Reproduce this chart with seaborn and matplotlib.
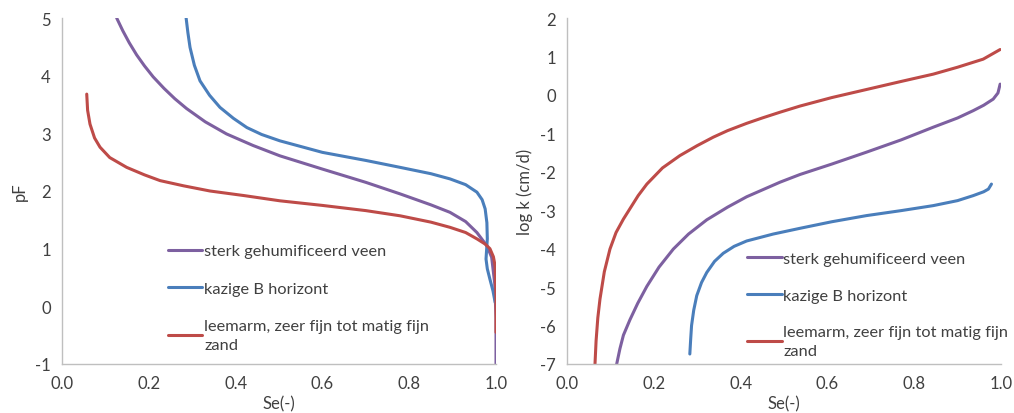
import matplotlib
matplotlib.use("Agg")
import matplotlib.pyplot as plt
import seaborn as sns

# labels
lbl_veen = "sterk gehumificeerd veen"
lbl_kazig = "kazige B horizont"
lbl_zand = "leemarm, zeer fijn tot matig fijn\nzand"

# pF curves (Se, pF)
veen_se = [0.126, 0.14, 0.155, 0.172, 0.19, 0.21, 0.235, 0.26, 0.287, 0.33, 0.379, 0.44, 0.502,
           0.6, 0.7, 0.779, 0.85, 0.894, 0.93, 0.956, 0.979, 0.99, 0.997, 1.0, 1.0]
veen_pf = [5.0, 4.78, 4.57, 4.36, 4.17, 3.98, 3.78, 3.6, 3.43, 3.2, 2.99, 2.79, 2.61,
           2.38, 2.15, 1.95, 1.76, 1.63, 1.47, 1.28, 1.05, 0.85, 0.4, -0.2, -1.0]

kazig_se = [0.286, 0.29, 0.295, 0.305, 0.318, 0.34, 0.364, 0.395, 0.426, 0.46, 0.502, 0.6, 0.7,
            0.779, 0.85, 0.894, 0.93, 0.956, 0.968, 0.975, 0.979, 0.98, 0.977, 0.98, 0.986,
            0.993, 0.998]
kazig_pf = [5.0, 4.75, 4.49, 4.18, 3.91, 3.66, 3.45, 3.26, 3.10, 2.98, 2.87, 2.67, 2.53,
            2.41, 2.3, 2.21, 2.11, 1.98, 1.85, 1.69, 1.45, 1.17, 0.82, 0.65, 0.47,
            0.27, 0.07]

zand_se = [0.057, 0.059, 0.0645, 0.075, 0.0876, 0.11, 0.149, 0.19, 0.226, 0.28, 0.341, 0.42,
           0.502, 0.6, 0.7, 0.779, 0.85, 0.894, 0.93, 0.956, 0.975, 0.986, 0.994, 0.998, 1.0, 1.0]
zand_pf = [3.68, 3.4, 3.16, 2.92, 2.76, 2.58, 2.41, 2.28, 2.18, 2.09, 2.0, 1.92,
           1.83, 1.75, 1.66, 1.57, 1.46, 1.37, 1.28, 1.17, 1.08, 1.0, 0.86, 0.70, 0.13, -0.45]

# log k curves (Se, log k)
veen_se_k = [0.1145, 0.122, 0.13, 0.145, 0.163, 0.184, 0.212, 0.245, 0.28, 0.322, 0.37, 0.414,
             0.491, 0.537, 0.61, 0.69, 0.77, 0.844, 0.9, 0.936, 0.96, 0.982, 0.993, 0.998]
veen_k = [-7.0, -6.6, -6.25, -5.85, -5.42, -4.98, -4.48, -4.01, -3.62, -3.25, -2.92, -2.65,
          -2.27, -2.07, -1.8, -1.49, -1.17, -0.84, -0.6, -0.41, -0.27, -0.11, 0.05, 0.28]

kazig_se_k = [0.283, 0.285, 0.287, 0.292, 0.299, 0.31, 0.322, 0.34, 0.36, 0.385, 0.414, 0.475,
              0.537, 0.61, 0.69, 0.77, 0.844, 0.9, 0.936, 0.96, 0.971, 0.978]
kazig_k = [-6.74, -6.35, -6.0, -5.6, -5.22, -4.88, -4.62, -4.33, -4.12, -3.94, -3.8, -3.62,
           -3.47, -3.3, -3.14, -3.01, -2.88, -2.75, -2.62, -2.52, -2.45, -2.32]

zand_se_k = [0.0645, 0.067, 0.071, 0.076, 0.086, 0.099, 0.113, 0.13, 0.164, 0.184, 0.22, 0.26,
             0.3, 0.337, 0.37, 0.414, 0.45, 0.491, 0.537, 0.61, 0.69, 0.77, 0.844, 0.9, 0.959,
             0.998]
zand_k = [-7.0, -6.4, -5.8, -5.31, -4.6, -4.01, -3.58, -3.23, -2.62, -2.32, -1.9, -1.58,
          -1.32, -1.10, -0.93, -0.74, -0.6, -0.45, -0.29, -0.07, 0.14, 0.35, 0.54, 0.72, 0.93,
          1.18]

kleur = {"veen": "#7D60A0", "kazig": "#4A7EBB", "zand": "#BE4B48"}
grijs = "#BFBFBF"
tekst = "#404040"

sns.set_style("white")
plt.rcParams["font.family"] = ["Lato", "DejaVu Sans"]
plt.rcParams["font.size"] = 12
plt.rcParams["axes.unicode_minus"] = False

fig = plt.figure(figsize=(10.14, 4.14), dpi=100)
ax1 = fig.add_axes([62 / 1014, 49 / 414, 434 / 1014, 346 / 414])
ax2 = fig.add_axes([567 / 1014, 49 / 414, 434 / 1014, 346 / 414])


def style_as(ax, ymin, ymax, ylabel):
    ax.set_xlim(0, 1)
    ax.set_ylim(ymin, ymax)
    ax.set_xticks([0, 0.2, 0.4, 0.6, 0.8, 1.0])
    ax.set_xticklabels(["0.0", "0.2", "0.4", "0.6", "0.8", "1.0"])
    ax.set_yticks(range(ymin, ymax + 1))
    sns.despine(ax=ax)
    for s in ["left", "bottom"]:
        ax.spines[s].set_color(grijs)
        ax.spines[s].set_linewidth(1.0)
    ax.tick_params(axis="both", direction="out", length=5, width=1.0, color=grijs,
                   labelcolor=tekst, labelsize=12, pad=3)
    ax.set_xlabel("Se(-)", color=tekst, fontsize=12, labelpad=3)
    ax.set_ylabel(ylabel, color=tekst, fontsize=12, labelpad=5)


sns.lineplot(x=veen_se, y=veen_pf, sort=False, estimator=None, color=kleur["veen"],
             linewidth=2.2, label=lbl_veen, ax=ax1)
sns.lineplot(x=kazig_se, y=kazig_pf, sort=False, estimator=None, color=kleur["kazig"],
             linewidth=2.2, label=lbl_kazig, ax=ax1)
sns.lineplot(x=zand_se, y=zand_pf, sort=False, estimator=None, color=kleur["zand"],
             linewidth=2.2, label=lbl_zand, ax=ax1)
style_as(ax1, -1, 5, "pF")

sns.lineplot(x=veen_se_k, y=veen_k, sort=False, estimator=None, color=kleur["veen"],
             linewidth=2.2, label=lbl_veen, ax=ax2)
sns.lineplot(x=kazig_se_k, y=kazig_k, sort=False, estimator=None, color=kleur["kazig"],
             linewidth=2.2, label=lbl_kazig, ax=ax2)
sns.lineplot(x=zand_se_k, y=zand_k, sort=False, estimator=None, color=kleur["zand"],
             linewidth=2.2, label=lbl_zand, ax=ax2)
style_as(ax2, -7, 2, "log k (cm/d)")

for ax, anchor, ls in [(ax1, (0.244, 0.347), 1.4), (ax2, (0.415, 0.325), 1.35)]:
    leg = ax.legend(loc="upper left", bbox_to_anchor=anchor, frameon=False, borderpad=0,
                    borderaxespad=0, handlelength=2.1, handletextpad=0.12,
                    labelspacing=ls, fontsize=11.8)
    for t in leg.get_texts():
        t.set_color(tekst)
        t.set_linespacing(1.45)

fig.savefig("out.png", dpi=100)
